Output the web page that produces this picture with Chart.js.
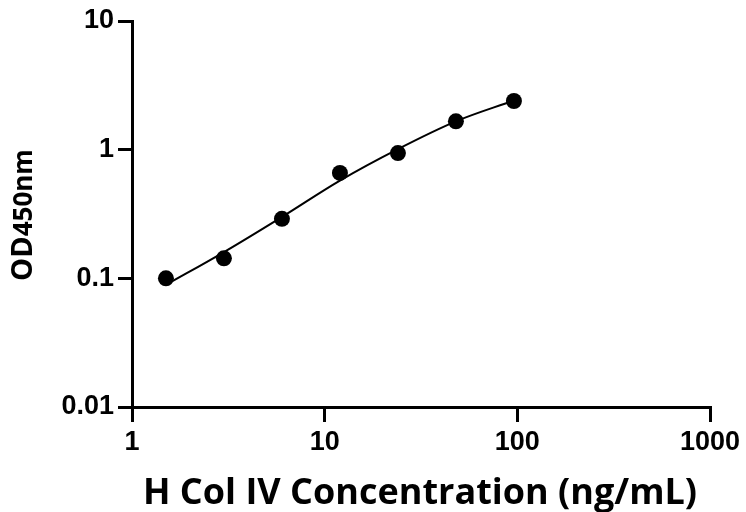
<!DOCTYPE html>
<html>
<head>
<meta charset="utf-8">
<script src="https://cdn.jsdelivr.net/npm/chart.js@4.4.1/dist/chart.umd.min.js"></script>
<style>
  html, body { margin: 0; padding: 0; background: #ffffff; }
  #wrap { width: 746px; height: 512px; }
</style>
</head>
<body>
<div id="wrap"><canvas id="c" width="746" height="512"></canvas></div>
<script>
// Measured standard points (concentration, OD450)
const concentrations = [1.5, 3, 6, 12, 24, 48, 96];
const odValues = [0.100, 0.143, 0.29, 0.66, 0.94, 1.66, 2.39];
// Fitted curve
const curveX = [1.5, 3, 6, 12, 24, 48, 96];
const curveY = [0.0889, 0.160, 0.300, 0.575, 1.01, 1.66, 2.41];
// Axis ticks
const xTicks = [1, 10, 100, 1000];
const yTicks = [0.01, 0.1, 1, 10];
const xTickLabels = ['1', '10', '100', '1000'];
const yTickLabels = ['0.01', '0.1', '1', '10'];
const xTitle = 'H Col IV Concentration (ng/mL)';
const yTitleMain = 'OD';
const yTitleSub = '450nm';

const pointsData = concentrations.map((x, i) => ({ x: x, y: odValues[i] }));
const curveData = curveX.map((x, i) => ({ x: x, y: curveY[i] }));

const titlePlugin = {
  id: 'axisTitles',
  afterDraw(chart) {
    const ctx = chart.ctx;
    ctx.save();
    ctx.fillStyle = '#000';
    // X title
    ctx.font = 'bold 36px "Open Sans"';
    ctx.textAlign = 'center';
    ctx.textBaseline = 'alphabetic';
    ctx.fillText(xTitle, 420, 504);
    // Y title (rotated)
    ctx.translate(32, 215);
    ctx.rotate(-Math.PI / 2);
    ctx.font = 'bold 29px "Open Sans"';
    const w1 = ctx.measureText(yTitleMain).width;
    ctx.font = 'bold 26px "Open Sans"';
    const w2 = ctx.measureText(yTitleSub).width;
    const start = -(w1 + w2) / 2;
    ctx.textAlign = 'left';
    ctx.font = 'bold 29px "Open Sans"';
    ctx.fillText(yTitleMain, start, 0);
    ctx.font = 'bold 26px "Open Sans"';
    ctx.fillText(yTitleSub, start + w1, 0);
    ctx.restore();
  }
};

const tickFont = { family: '"Liberation Sans", Arial, sans-serif', weight: 'bold', size: 27 };

new Chart(document.getElementById('c'), {
  type: 'scatter',
  data: {
    datasets: [
      {
        label: 'Fit',
        data: curveData,
        showLine: true,
        borderColor: '#000',
        borderWidth: 2,
        pointRadius: 0,
        tension: 0.35,
        fill: false,
        order: 2
      },
      {
        label: 'Standards',
        data: pointsData,
        showLine: false,
        pointRadius: 8,
        pointHoverRadius: 8,
        backgroundColor: '#000',
        borderColor: '#000',
        borderWidth: 0,
        order: 1
      }
    ]
  },
  options: {
    responsive: false,
    animation: false,
    events: [],
    layout: { padding: { left: 0, right: 36, top: 21, bottom: 0 } },
    plugins: {
      legend: { display: false },
      tooltip: { enabled: false },
      title: { display: false }
    },
    scales: {
      x: {
        type: 'logarithmic',
        min: 1,
        max: 1000,
        afterBuildTicks: (s) => { s.ticks = xTicks.map(v => ({ value: v })); },
        afterFit: (s) => { s.height = 105; },
        ticks: {
          autoSkip: false,
          maxRotation: 0,
          color: '#000',
          font: tickFont,
          padding: 4,
          callback: (v) => { const i = xTicks.indexOf(v); return i >= 0 ? xTickLabels[i] : ''; }
        },
        grid: {
          drawOnChartArea: false,
          drawTicks: true,
          tickLength: 15,
          lineWidth: 3,
          color: '#000'
        },
        border: { display: true, width: 3, color: '#000' }
      },
      y: {
        type: 'logarithmic',
        min: 0.01,
        max: 10,
        afterBuildTicks: (s) => { s.ticks = yTicks.map(v => ({ value: v })); },
        afterFit: (s) => { s.width = 132; },
        ticks: {
          autoSkip: false,
          color: '#000',
          font: tickFont,
          padding: 4,
          callback: (v) => { const i = yTicks.indexOf(v); return i >= 0 ? yTickLabels[i] : ''; }
        },
        grid: {
          drawOnChartArea: false,
          drawTicks: true,
          tickLength: 14,
          lineWidth: 3,
          color: '#000'
        },
        border: { display: true, width: 3, color: '#000' }
      }
    }
  },
  plugins: [titlePlugin]
});
</script>
</body>
</html>
